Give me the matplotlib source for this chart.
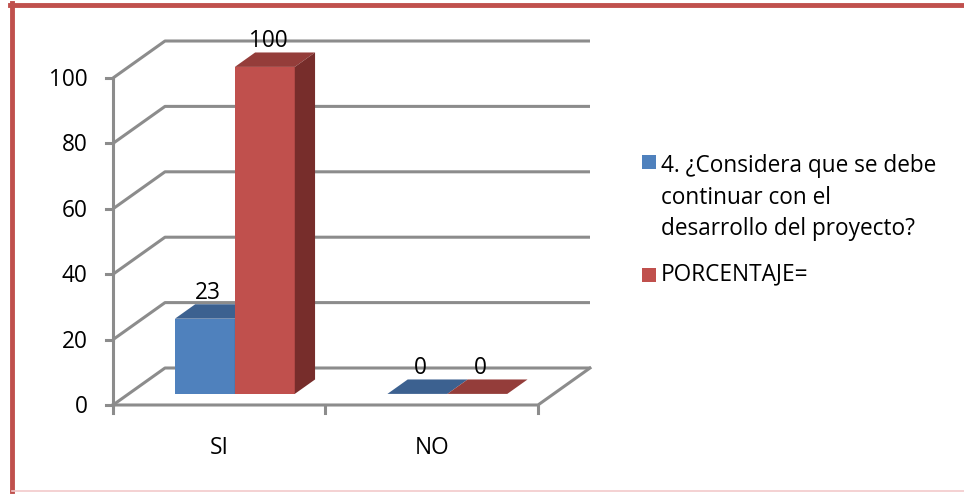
import matplotlib
matplotlib.use("Agg")
import matplotlib.pyplot as plt
from matplotlib.patches import Polygon, Rectangle
from matplotlib.lines import Line2D

# --- data -------------------------------------------------------------
categories = ["SI", "NO"]
series_names = ["4. ¿Considera que se debe\ncontinuar con el\ndesarrollo del proyecto?",
                "PORCENTAJE="]
series_a = [23, 0]
series_b = [100, 0]
y_ticks = [0, 20, 40, 60, 80, 100]

# --- styling ----------------------------------------------------------
FONT = "Open Sans"
FS = 16.3
front_cols = ["#4F81BD", "#C0504D"]
top_cols = ["#3C6190", "#943D3A"]
side_cols = ["#34557E", "#772D2B"]
grid_col = "#8C8C8C"

W, H = 964, 495
fig = plt.figure(figsize=(W / 100, H / 100), dpi=100)
ax = fig.add_axes([0, 0, 1, 1])

# pixel geometry of the plot box (front plane)
X0, Y0 = 113, 405          # origin of the front plane, pixels from top-left
PX, PY = 212.5, 3.27       # pixels per category / per value unit
ax.set_xlim(-X0 / PX, (W - X0) / PX)
ax.set_ylim(-(H - Y0) / PY, Y0 / PY)
ax.axis("off")

# oblique depth vector of the 3-D box (data units)
DX, DY = 52 / PX, 37 / PY
ncat = len(categories)
ymax = y_ticks[-1]

# gridlines: left wall diagonal + back wall horizontal
for v in y_ticks:
    ax.plot([0, DX, ncat + DX], [v, v + DY, v + DY], color=grid_col, lw=2.2,
            solid_capstyle="butt", zorder=1)
# value axis and its ticks
ax.plot([0, 0], [0, ymax], color=grid_col, lw=2.2, zorder=2)
for v in y_ticks:
    ax.plot([-0.034, 0], [v, v], color=grid_col, lw=2.2, zorder=2)
    ax.text(-0.12, v - 0.6, f"{v}", ha="right", va="center", fontsize=FS,
            family=FONT, color="black")
# floor front edge, right edge, category ticks
ax.plot([0, ncat, ncat + DX], [0, 0, DY], color=grid_col, lw=2.2, zorder=2)
for i in range(ncat + 1):
    ax.plot([i, i], [0, -2.4], color=grid_col, lw=2.2, zorder=2)
for i, c in enumerate(categories):
    ax.text(i + 0.5, -13.2, c, ha="center", va="center", fontsize=FS,
            family=FONT, color="black")

# bars
bw = 0.282
zf, zd = 0.30, 0.39
zb = zf + zd
for s, vals in enumerate([series_a, series_b]):
    for i, v in enumerate(vals):
        xl = i + 0.5 - bw + s * bw
        xr = xl + bw
        ax.bar(xl + bw / 2 + zf * DX, v, width=bw, bottom=zf * DY,
               color=front_cols[s], edgecolor="none", zorder=3 + s)
        top = [(xl + zf * DX, v + zf * DY), (xr + zf * DX, v + zf * DY),
               (xr + zb * DX, v + zb * DY), (xl + zb * DX, v + zb * DY)]
        ax.add_patch(Polygon(top, closed=True, facecolor=top_cols[s],
                             edgecolor="none", zorder=3 + s))
        if v > 0:
            side = [(xr + zf * DX, zf * DY), (xr + zf * DX, v + zf * DY),
                    (xr + zb * DX, v + zb * DY), (xr + zb * DX, zb * DY)]
            ax.add_patch(Polygon(side, closed=True, facecolor=side_cols[s],
                                 edgecolor="none", zorder=3 + s))
        ax.text(xl + bw / 2 + zf * DX + 0.015, v + zb * DY + 3.4, f"{v}",
                ha="center", va="center", fontsize=FS, family=FONT,
                color="black", zorder=10)

# legend
def fx(px):
    return px / W

def fy(py):
    return 1 - py / H

leg_items = [(155, 197.5, series_names[0]), (268, 274, series_names[1])]
for s, (ytop, ytext, label) in enumerate(leg_items):
    fig.patches.append(Rectangle((fx(642), fy(ytop + 14)), 14 / W, 14 / H,
                                 transform=fig.transFigure,
                                 facecolor=front_cols[s], edgecolor="none"))
    fig.text(fx(661), fy(ytext), label, ha="left", va="center",
             fontsize=FS, family=FONT, color="black", linespacing=1.4)

# outer frame
fig.add_artist(Line2D([fx(12), fx(12)], [fy(3), fy(491)], color="#C0504D", lw=3.5,
                      transform=fig.transFigure))
fig.add_artist(Line2D([fx(10), 1], [fy(5), fy(5)], color="#C0504D", lw=3.5,
                      transform=fig.transFigure))
fig.add_artist(Line2D([fx(12), 1], [fy(491), fy(491)], color="#F2C9CB", lw=1.2,
                      transform=fig.transFigure))

fig.savefig("out.png", dpi=100, facecolor="white")
